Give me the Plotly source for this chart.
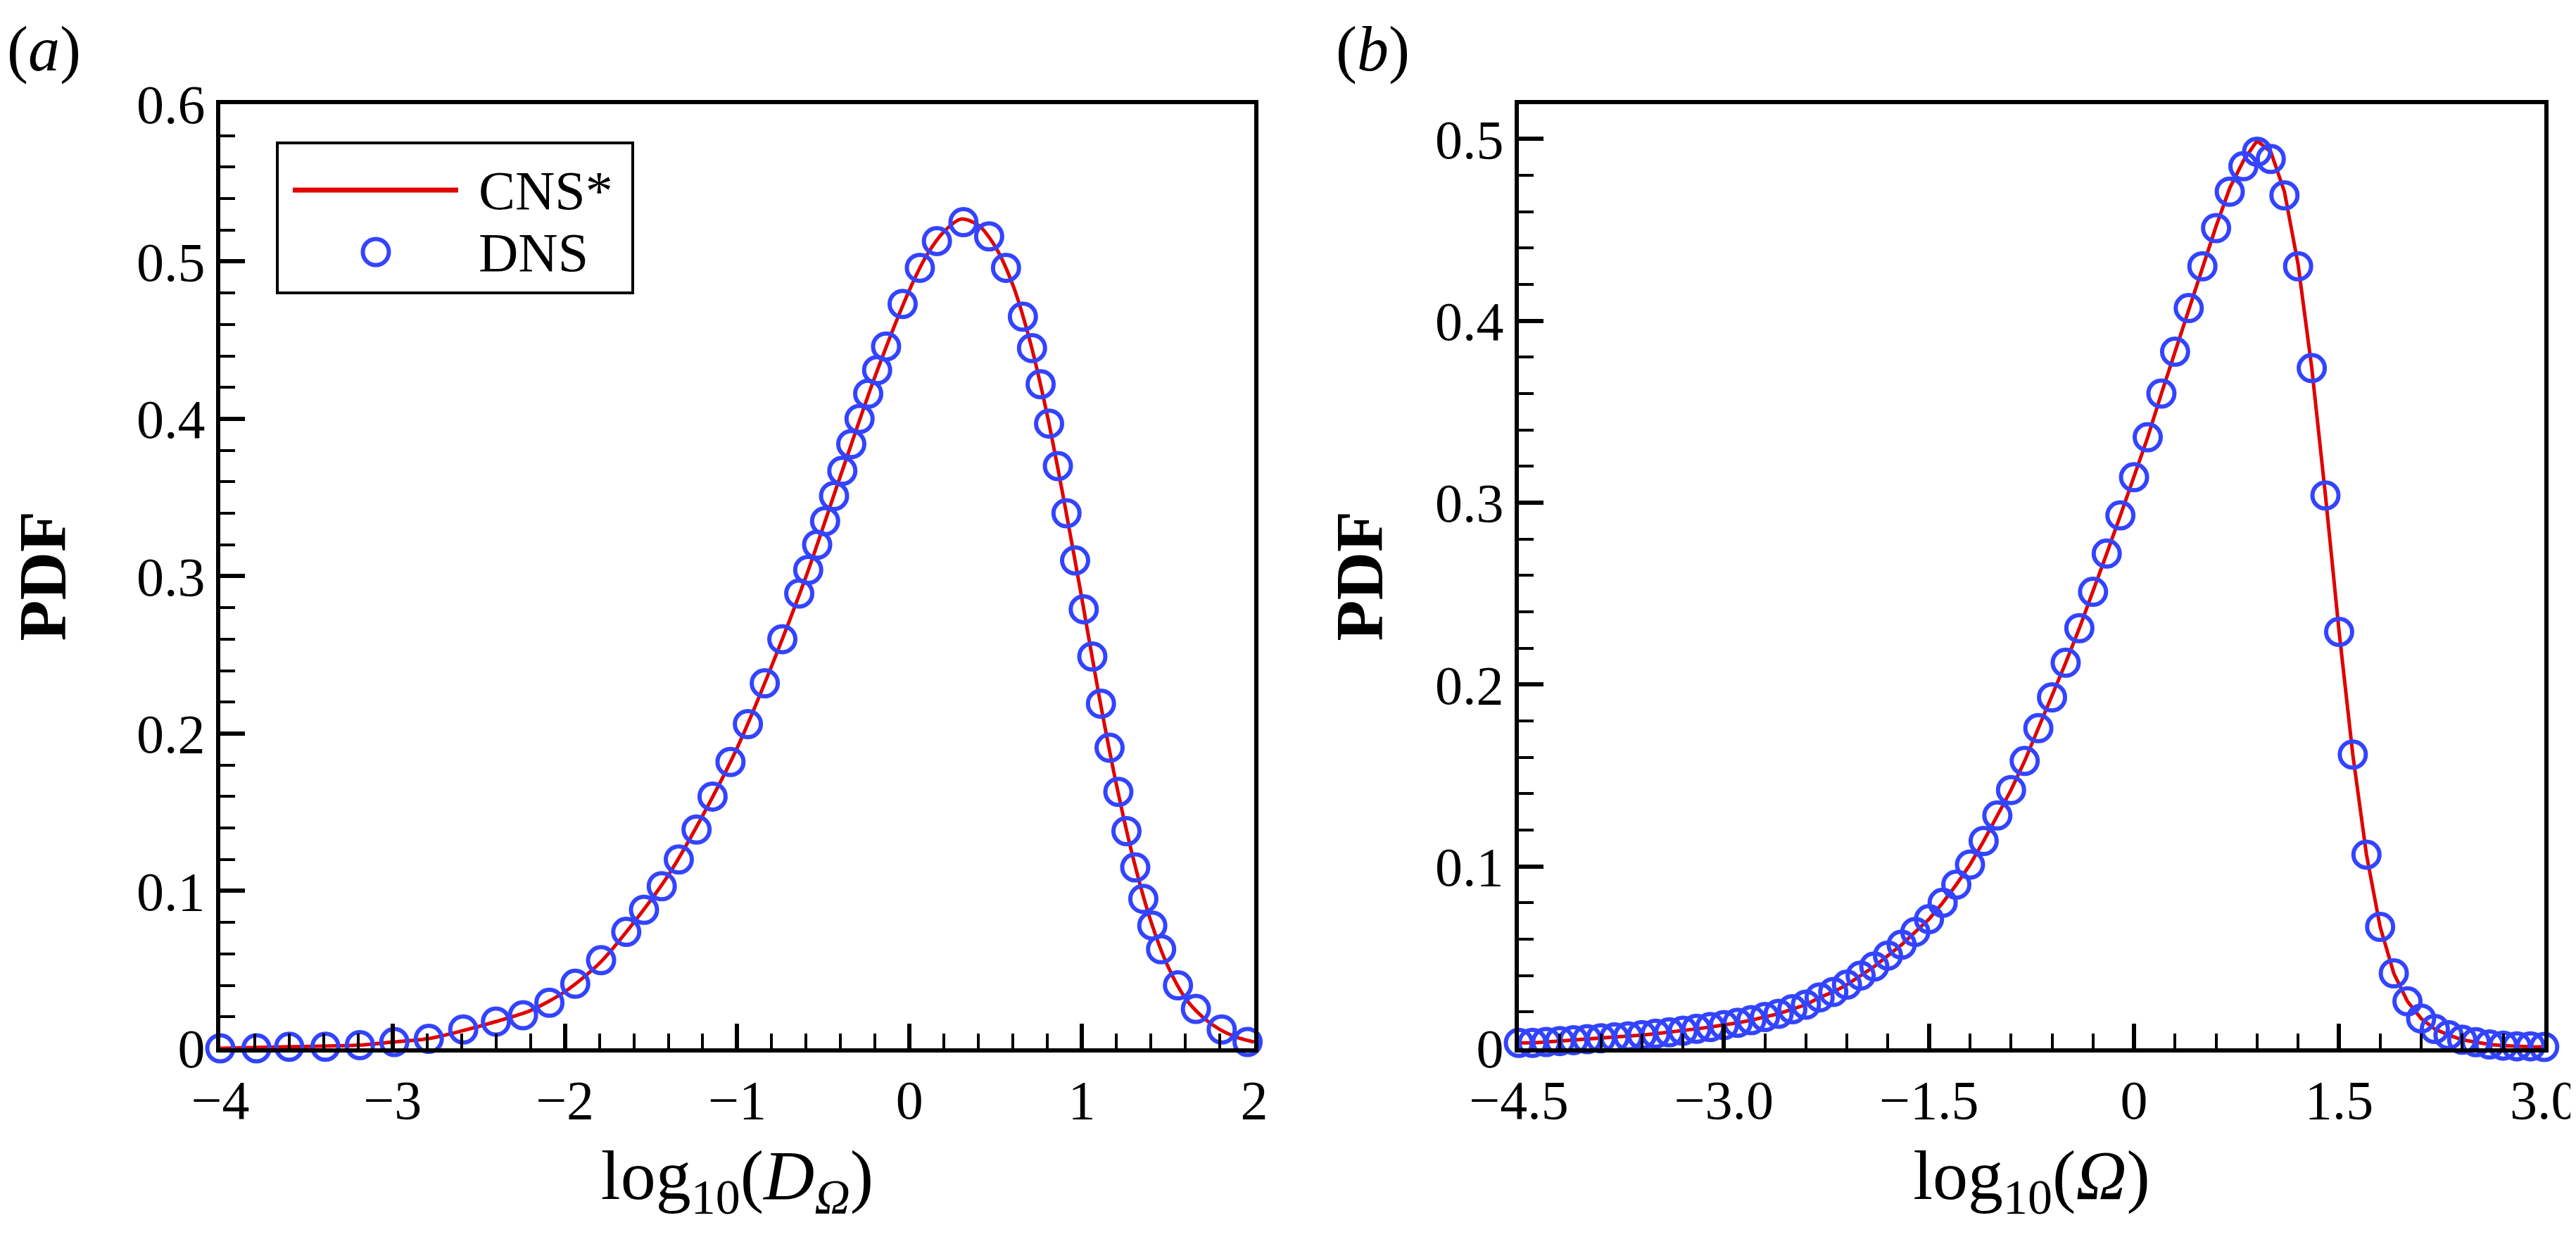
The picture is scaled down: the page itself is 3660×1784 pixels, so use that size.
import plotly.graph_objects as go

# ---- panel (a): PDF of log10(D_Omega) ----
a_cns_x = [-4.0, -3.6, -3.2, -3.0, -2.8, -2.6, -2.4, -2.2, -2.0, -1.8, -1.6, -1.4,
           -1.2, -1.0, -0.8, -0.6, -0.4, -0.2, 0.0, 0.1, 0.2, 0.3, 0.4, 0.5, 0.6,
           0.7, 0.8, 0.9, 1.0, 1.1, 1.2, 1.3, 1.4, 1.5, 1.6, 1.7, 1.8, 1.9, 2.0]
a_cns_y = [0.000, 0.001, 0.002, 0.004, 0.006, 0.011, 0.017, 0.024, 0.036, 0.054, 0.080, 0.110,
           0.148, 0.191, 0.243, 0.300, 0.364, 0.427, 0.482, 0.504, 0.519, 0.527, 0.523, 0.509, 0.485,
           0.449, 0.402, 0.346, 0.286, 0.224, 0.168, 0.120, 0.081, 0.052, 0.032, 0.020, 0.012, 0.007, 0.004]

a_dns_x = [-4.0, -3.79, -3.6, -3.39, -3.19, -2.99, -2.79, -2.59, -2.40, -2.243, -2.09,
           -1.94, -1.79, -1.644, -1.541, -1.438, -1.339, -1.236, -1.143, -1.039, -0.938,
           -0.840, -0.738, -0.640, -0.588, -0.536, -0.490, -0.438, -0.390, -0.338, -0.290,
           -0.240, -0.188, -0.136, -0.040, 0.060, 0.159, 0.313, 0.462, 0.560, 0.658, 0.711,
           0.761, 0.810, 0.861, 0.911, 0.961, 1.011, 1.061, 1.111, 1.161, 1.212, 1.259,
           1.310, 1.357, 1.409, 1.460, 1.558, 1.662, 1.812, 1.962]
a_dns_y = [0.000, 0.000, 0.001, 0.001, 0.002, 0.004, 0.006, 0.012, 0.017, 0.021, 0.029,
           0.041, 0.056, 0.074, 0.088, 0.103, 0.120, 0.139, 0.160, 0.182, 0.206,
           0.232, 0.260, 0.289, 0.304, 0.320, 0.335, 0.351, 0.367, 0.384, 0.400,
           0.416, 0.431, 0.446, 0.473, 0.496, 0.513, 0.525, 0.516, 0.496, 0.465, 0.445,
           0.422, 0.397, 0.370, 0.340, 0.310, 0.279, 0.249, 0.219, 0.191, 0.163, 0.138,
           0.115, 0.095, 0.078, 0.063, 0.040, 0.025, 0.012, 0.004]

# ---- panel (b): PDF of log10(Omega) ----
b_x = [-4.5, -4.4, -4.3, -4.2, -4.1, -4.0, -3.9, -3.8, -3.7, -3.6, -3.5, -3.4, -3.3,
       -3.2, -3.1, -3.0, -2.9, -2.8, -2.7, -2.6, -2.5, -2.4, -2.3, -2.2, -2.1, -2.0,
       -1.9, -1.8, -1.7, -1.6, -1.5, -1.4, -1.3, -1.2, -1.1, -1.0, -0.9, -0.8, -0.7,
       -0.6, -0.5, -0.4, -0.3, -0.2, -0.1, 0.0, 0.1, 0.2, 0.3, 0.4, 0.5, 0.6, 0.7,
       0.8, 0.9, 1.0, 1.1, 1.2, 1.3, 1.4, 1.5, 1.6, 1.7, 1.8, 1.9, 2.0, 2.1, 2.2,
       2.3, 2.4, 2.5, 2.6, 2.7, 2.8, 2.9, 3.0]
b_dns = [0.0030, 0.0030, 0.0035, 0.0040, 0.0045, 0.0050, 0.0055, 0.0060, 0.0066, 0.0073,
         0.0080, 0.0088, 0.0097, 0.0107, 0.0117, 0.0128, 0.0140, 0.0155, 0.0172, 0.0190,
         0.0215, 0.0240, 0.0280, 0.0310, 0.0350, 0.0400, 0.0450, 0.0510, 0.0570, 0.0640,
         0.0710, 0.0800, 0.0900, 0.1010, 0.1140, 0.1280, 0.1420, 0.1580, 0.1760, 0.1930,
         0.2120, 0.2310, 0.2510, 0.2720, 0.2930, 0.3140, 0.3360, 0.3600, 0.3830, 0.4070,
         0.4300, 0.4510, 0.4710, 0.4850, 0.4930, 0.4890, 0.4690, 0.4300, 0.3740, 0.3040,
         0.2290, 0.1615, 0.1065, 0.0668, 0.0412, 0.0258, 0.0164, 0.0106, 0.0073, 0.0047,
         0.0034, 0.0021, 0.0015, 0.0011, 0.0011, 0.0008]
b_cns = [0.0030, 0.0030, 0.0035, 0.0040, 0.0045, 0.0050, 0.0055, 0.0060, 0.0066, 0.0073,
         0.0080, 0.0088, 0.0097, 0.0107, 0.0117, 0.0128, 0.0140, 0.0155, 0.0172, 0.0190,
         0.0215, 0.0240, 0.0280, 0.0310, 0.0350, 0.0400, 0.0450, 0.0510, 0.0570, 0.0640,
         0.0710, 0.0800, 0.0900, 0.1010, 0.1140, 0.1280, 0.1420, 0.1580, 0.1760, 0.1930,
         0.2120, 0.2310, 0.2510, 0.2720, 0.2930, 0.3140, 0.3360, 0.3600, 0.3830, 0.4070,
         0.4300, 0.4520, 0.4730, 0.4880, 0.4990, 0.4930, 0.4710, 0.4310, 0.3740, 0.3040,
         0.2290, 0.1615, 0.1065, 0.0668, 0.0412, 0.0258, 0.0164, 0.0106, 0.0073, 0.0047,
         0.0034, 0.0021, 0.0015, 0.0011, 0.0009, 0.0008]

b_tickvals = [-4.5, -3.0, -1.5, 0, 1.5, 3.0]
b_ticktext = ["\u22124.5", "\u22123.0", "\u22121.5", "0", "1.5", "3.0"]

legend_names = ["CNS*", "DNS"]

FONT = "Liberation Serif"
RED = "#e00000"
BLUE = "#3344ff"
W, H = 3660, 1784


def px(x):
    return x / W


def py(y):
    return 1 - y / H


fig = go.Figure()

fig.add_trace(go.Scatter(x=a_cns_x, y=a_cns_y, mode="lines", name=legend_names[0],
                         line=dict(color=RED, width=5, shape="spline", smoothing=0.8),
                         xaxis="x", yaxis="y", cliponaxis=False))
fig.add_trace(go.Scatter(x=a_dns_x, y=a_dns_y, mode="markers", name=legend_names[1],
                         marker=dict(symbol="circle-open", size=37, color=BLUE,
                                     line=dict(width=6, color=BLUE)),
                         xaxis="x", yaxis="y", cliponaxis=False))
fig.add_trace(go.Scatter(x=b_x, y=b_cns, mode="lines", name=legend_names[0],
                         line=dict(color=RED, width=5),
                         xaxis="x2", yaxis="y2", cliponaxis=False))
fig.add_trace(go.Scatter(x=b_x, y=b_dns, mode="markers", name=legend_names[1],
                         marker=dict(symbol="circle-open", size=37, color=BLUE,
                                     line=dict(width=6, color=BLUE)),
                         xaxis="x2", yaxis="y2", cliponaxis=False))

y_dom = [py(1481), py(139.5)]

axis_common = dict(
    showline=True, linewidth=6, linecolor="black", mirror=True,
    showgrid=False, zeroline=False,
    ticks="inside", ticklen=34, tickwidth=6, tickcolor="black",
    tickfont=dict(family=FONT, size=78, color="black"),
    ticklabeloverflow="allow", automargin=False,
)
minor_common = dict(ticks="inside", ticklen=21, tickwidth=4, tickcolor="black")

fig.update_layout(
    template="none",
    width=W, height=H, autosize=False, showlegend=False,
    margin=dict(l=0, r=0, t=0, b=0),
    paper_bgcolor="white", plot_bgcolor="white",
    font=dict(family=FONT, color="black"),
    xaxis=dict(axis_common, domain=[px(305), px(1774)], anchor="y",
               range=[-4, 2.0005], tick0=-4, dtick=1,
               minor=dict(minor_common, tick0=-4, dtick=0.2),
               title=dict(text="log<sub>10</sub>(<i>D</i><sub><i>\u03a9</i></sub>)",
                          font=dict(family=FONT, size=100), standoff=30)),
    yaxis=dict(axis_common, domain=y_dom, anchor="x",
               range=[0, 0.6002], tick0=0, dtick=0.1,
               minor=dict(minor_common, tick0=0, dtick=0.02),
               title=dict(text="<b>PDF</b>", font=dict(family=FONT, size=95), standoff=75)),
    xaxis2=dict(axis_common, domain=[px(2150), px(3607)], anchor="y2",
                range=[-4.5, 3.001], tickmode="array", tickvals=b_tickvals, ticktext=b_ticktext,
                minor=dict(minor_common, tick0=-4.5, dtick=0.3),
                title=dict(text="log<sub>10</sub>(<i>\u03a9</i>)",
                           font=dict(family=FONT, size=100), standoff=30)),
    yaxis2=dict(axis_common, domain=y_dom, anchor="x2",
                range=[0, 0.5193], tick0=0, dtick=0.1,
                minor=dict(minor_common, tick0=0, dtick=0.02),
                title=dict(text="<b>PDF</b>", font=dict(family=FONT, size=95), standoff=45)),
)

# legend box drawn by hand so the sample line and circle keep the reference sizes
fig.add_shape(type="rect", xref="paper", yref="paper",
              x0=px(386), x1=px(891), y0=py(408), y1=py(195),
              line=dict(color="black", width=4), fillcolor="white", layer="above")
fig.add_shape(type="line", xref="paper", yref="paper",
              x0=px(408), x1=px(643), y0=py(262), y1=py(262),
              line=dict(color=RED, width=7), layer="above")
fig.add_shape(type="circle", xref="paper", yref="paper",
              x0=px(526 - 18.5), x1=px(526 + 18.5), y0=py(350 + 18.5), y1=py(350 - 18.5),
              line=dict(color=BLUE, width=6), layer="above")
for name, ycen in zip(legend_names, [262, 350]):
    fig.add_annotation(text=name, x=px(670), y=py(ycen), xref="paper", yref="paper",
                       xanchor="left", yanchor="middle", showarrow=False,
                       font=dict(family=FONT, size=78, color="black"))

for label, xl in [("(<i>a</i>)", 0), ("(<i>b</i>)", 1888)]:
    fig.add_annotation(text=label, x=px(xl), y=py(10), xref="paper", yref="paper",
                       xanchor="left", yanchor="top", showarrow=False,
                       font=dict(family=FONT, size=90, color="black"))

# drop the first-pass tick paths and let plotly draw them again with the final geometry
redraw = """
var gd = document.getElementById('{plot_id}');
gd.querySelectorAll('path.xtick, path.ytick, path.x2tick, path.y2tick')
  .forEach(function(el) { el.remove(); });
Plotly.relayout(gd, {'xaxis.ticklen': 35, 'yaxis.ticklen': 35,
                     'xaxis2.ticklen': 35, 'yaxis2.ticklen': 35});
"""
fig.write_html("out.html", post_script=redraw)
